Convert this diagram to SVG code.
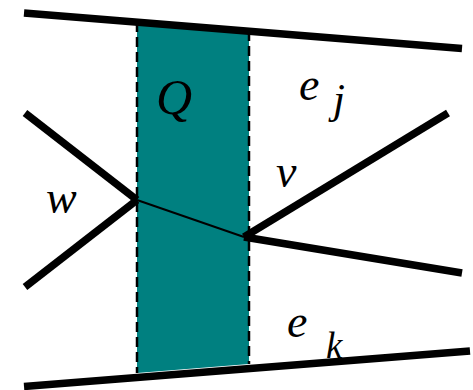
<svg xmlns="http://www.w3.org/2000/svg" width="473" height="390" viewBox="0 0 473 390">
<style>
.lbl{font-family:"Liberation Serif","Times New Roman",serif;font-style:italic;font-size:46px;fill:#000}
.thick{stroke:#000;stroke-width:7.5;stroke-linecap:butt;fill:none}
.dash{stroke:#000;stroke-width:2.5;stroke-dasharray:10,5;fill:none}
</style>
<rect width="473" height="390" fill="#fff"/>
<g id="region-Q">
<polygon points="137,22 249,31 249,364 137,373" fill="#008080"/>
<line class="dash" x1="137" y1="22" x2="137" y2="373"/>
<line class="dash" x1="249" y1="31" x2="249" y2="364"/>
<text class="lbl" x="156" y="114" style="font-size:50px">Q</text>
</g>
<g id="connectors">
<line class="thick" x1="24" y1="13" x2="462" y2="48.5"/>
<line class="thick" x1="24" y1="386.5" x2="470" y2="351"/>
<line class="thick" x1="25" y1="113" x2="137" y2="200"/>
<line class="thick" x1="25" y1="287" x2="137" y2="200"/>
<line x1="137" y1="200" x2="244" y2="237" stroke="#000" stroke-width="2"/>
<line class="thick" x1="244" y1="237" x2="448" y2="113"/>
<line class="thick" x1="244" y1="237" x2="462" y2="273"/>
</g>
<g id="node-w"><text class="lbl" x="46" y="213">w</text></g>
<g id="node-v"><text class="lbl" x="276" y="187">v</text></g>
<g id="edge-ej"><text class="lbl" x="299" y="100">e</text><text class="lbl" x="333" y="113" style="font-size:43px">j</text></g>
<g id="edge-ek"><text class="lbl" x="287" y="337">e</text><text class="lbl" x="326" y="358" style="font-size:37px">k</text></g>
</svg>
